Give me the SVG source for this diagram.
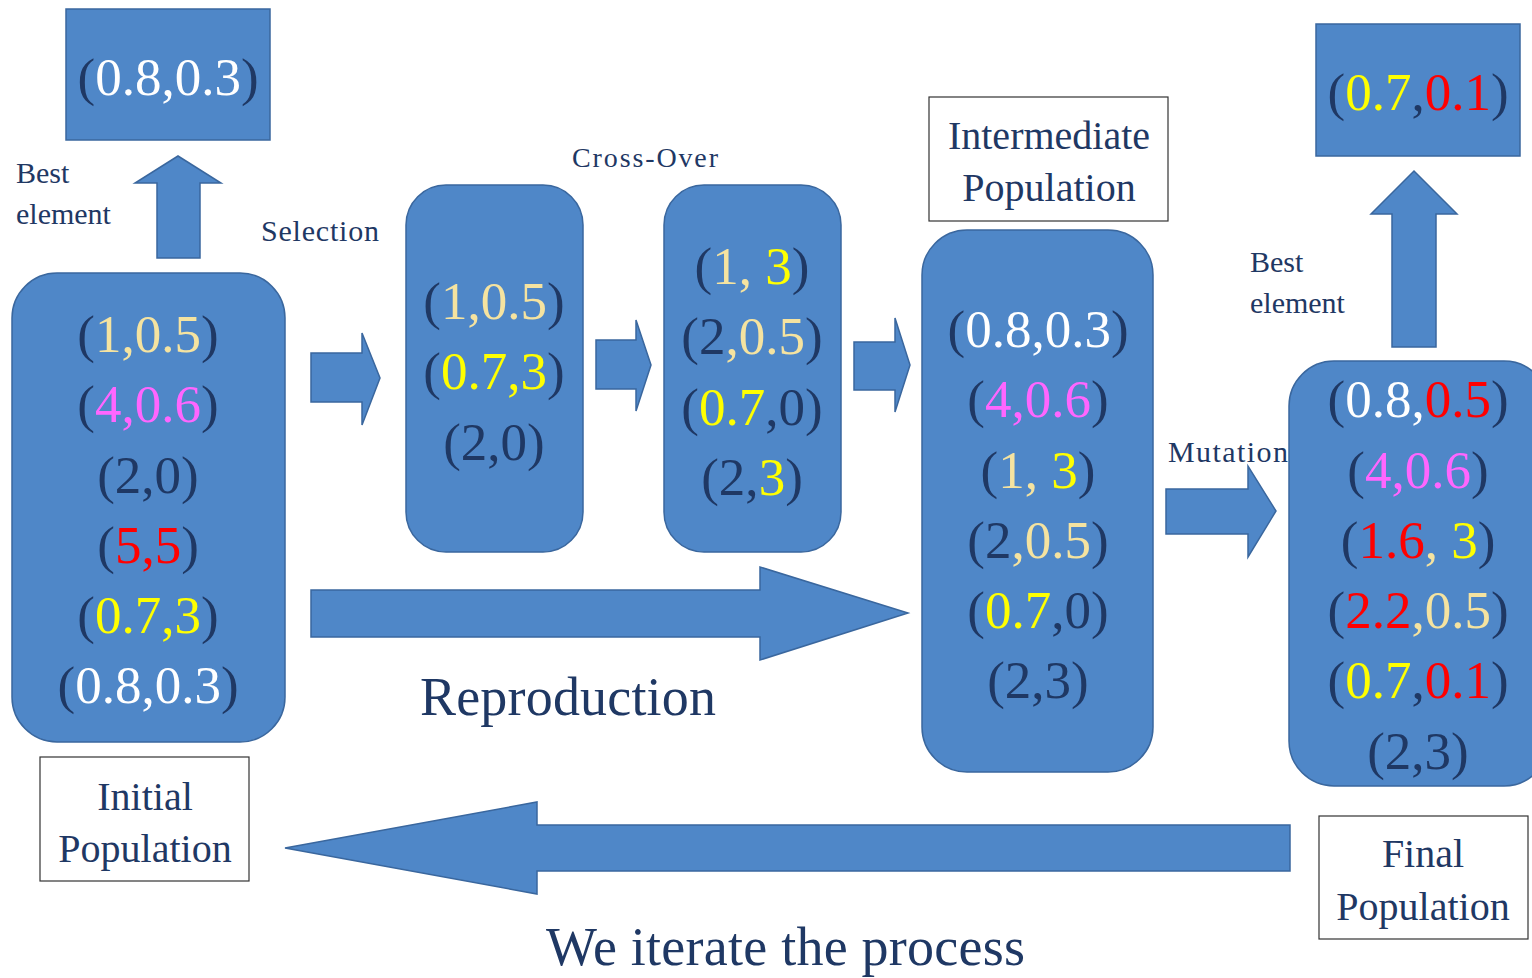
<svg xmlns="http://www.w3.org/2000/svg" width="1532" height="978" viewBox="0 0 1532 978">
<style>
.blk{fill:#4F87C8;stroke:#3A679E;stroke-width:1.5}
.lbl{fill:#FFFFFF;stroke:#333;stroke-width:1.2}
.arr{fill:#4F87C8;stroke:#3A679E;stroke-width:1.5}
text{font-family:"Liberation Serif","Times New Roman",serif;fill:#1F3864}
.t{font-size:53px;text-anchor:middle}
.s{font-size:30px}
.m{font-size:40px;text-anchor:middle}
.big{font-size:54px}
.n{fill:#1F3864}.c{fill:#F5E3A0}.p{fill:#FF66FF}.r{fill:#FF0000}.y{fill:#FFFF00}.w{fill:#FFFFFF}
</style>
<rect width="1532" height="978" fill="#FFFFFF"/>

<g id="connectors">
  <polygon class="arr" points="157,258 157,183 135,183 178,156 221,183 200,183 200,258"/>
  <polygon class="arr" points="1392,347 1392,214 1371,214 1414,171 1457,214 1436,214 1436,347"/>
  <polygon class="arr" points="311,353 362,353 362,333 380,378 362,425 362,402 311,402"/>
  <polygon class="arr" points="596,340 636,340 636,320 651,365 636,411 636,389 596,389"/>
  <polygon class="arr" points="854,342 895,342 895,318 910,365 895,412 895,390 854,390"/>
  <polygon class="arr" points="1166,489 1248,489 1248,466 1276,511 1248,557 1248,534 1166,534"/>
  <polygon class="arr" points="311,590 760,590 760,567 908,613 760,660 760,637 311,637"/>
  <polygon class="arr" points="1290,825 537,825 537,802 285,848 537,894 537,871 1290,871"/>
</g>

<g id="labels">
  <text class="s" x="16" y="183">Best</text>
  <text class="s" x="16" y="224">element</text>
  <text class="s" x="261" y="241" textLength="118">Selection</text>
  <text class="s" x="572" y="167" textLength="146" style="font-size:28px">Cross-Over</text>
  <text class="s" x="1168" y="462" textLength="120">Mutation</text>
  <text class="s" x="1250" y="272">Best</text>
  <text class="s" x="1250" y="313">element</text>
  <text class="big" x="420" y="715" textLength="296">Reproduction</text>
  <text class="big" x="546" y="965" textLength="479">We iterate the process</text>
</g>

<g id="best-initial">
  <rect class="blk" x="66" y="9" width="204" height="131"/>
  <text class="t" x="168" y="95"><tspan class="n">(</tspan><tspan class="w">0.8,0.3</tspan><tspan class="n">)</tspan></text>
</g>

<g id="best-final">
  <rect class="blk" x="1316" y="24" width="204" height="132"/>
  <text class="t" x="1418" y="110"><tspan class="n">(</tspan><tspan class="y">0.7</tspan><tspan class="n">,</tspan><tspan class="r">0.1</tspan><tspan class="n">)</tspan></text>
</g>

<g id="initial-population">
  <rect class="blk" x="12" y="273" width="273" height="469" rx="45"/>
  <text class="t" x="148" y="352"><tspan class="n">(</tspan><tspan class="c">1,0.5</tspan><tspan class="n">)</tspan></text>
  <text class="t" x="148" y="422"><tspan class="n">(</tspan><tspan class="p">4,0.6</tspan><tspan class="n">)</tspan></text>
  <text class="t" x="148" y="493"><tspan class="n">(2,0)</tspan></text>
  <text class="t" x="148" y="563"><tspan class="n">(</tspan><tspan class="r">5,5</tspan><tspan class="n">)</tspan></text>
  <text class="t" x="148" y="633"><tspan class="n">(</tspan><tspan class="y">0.7,3</tspan><tspan class="n">)</tspan></text>
  <text class="t" x="148" y="703"><tspan class="n">(</tspan><tspan class="w">0.8,0.3</tspan><tspan class="n">)</tspan></text>
</g>

<g id="initial-label">
  <rect class="lbl" x="40" y="757" width="209" height="124"/>
  <text class="m" x="145" y="810">Initial</text>
  <text class="m" x="145" y="862">Population</text>
</g>

<g id="selected">
  <rect class="blk" x="406" y="185" width="177" height="367" rx="40"/>
  <text class="t" x="494" y="319"><tspan class="n">(</tspan><tspan class="c">1,0.5</tspan><tspan class="n">)</tspan></text>
  <text class="t" x="494" y="389"><tspan class="n">(</tspan><tspan class="y">0.7,3</tspan><tspan class="n">)</tspan></text>
  <text class="t" x="494" y="460"><tspan class="n">(2,0)</tspan></text>
</g>

<g id="crossover">
  <rect class="blk" x="664" y="185" width="177" height="367" rx="40"/>
  <text class="t" x="752" y="284"><tspan class="n">(</tspan><tspan class="c">1,</tspan><tspan class="y"> 3</tspan><tspan class="n">)</tspan></text>
  <text class="t" x="752" y="354"><tspan class="n">(2</tspan><tspan class="c">,0.5</tspan><tspan class="n">)</tspan></text>
  <text class="t" x="752" y="425"><tspan class="n">(</tspan><tspan class="y">0.7</tspan><tspan class="n">,0)</tspan></text>
  <text class="t" x="752" y="495"><tspan class="n">(2,</tspan><tspan class="y">3</tspan><tspan class="n">)</tspan></text>
</g>

<g id="intermediate-label">
  <rect class="lbl" x="929" y="97" width="239" height="124"/>
  <text class="m" x="1049" y="149">Intermediate</text>
  <text class="m" x="1049" y="201">Population</text>
</g>

<g id="intermediate-population">
  <rect class="blk" x="922" y="230" width="231" height="542" rx="45"/>
  <text class="t" x="1038" y="347"><tspan class="n">(</tspan><tspan class="w">0.8,0.3</tspan><tspan class="n">)</tspan></text>
  <text class="t" x="1038" y="417"><tspan class="n">(</tspan><tspan class="p">4,0.6</tspan><tspan class="n">)</tspan></text>
  <text class="t" x="1038" y="488"><tspan class="n">(</tspan><tspan class="c">1,</tspan><tspan class="y"> 3</tspan><tspan class="n">)</tspan></text>
  <text class="t" x="1038" y="558"><tspan class="n">(2</tspan><tspan class="c">,0.5</tspan><tspan class="n">)</tspan></text>
  <text class="t" x="1038" y="628"><tspan class="n">(</tspan><tspan class="y">0.7</tspan><tspan class="n">,0)</tspan></text>
  <text class="t" x="1038" y="698"><tspan class="n">(2,3)</tspan></text>
</g>

<g id="final-population">
  <rect class="blk" x="1289" y="361" width="260" height="425" rx="45"/>
  <text class="t" x="1418" y="417"><tspan class="n">(</tspan><tspan class="w">0.8,</tspan><tspan class="r">0.5</tspan><tspan class="n">)</tspan></text>
  <text class="t" x="1418" y="488"><tspan class="n">(</tspan><tspan class="p">4,0.6</tspan><tspan class="n">)</tspan></text>
  <text class="t" x="1418" y="558"><tspan class="n">(</tspan><tspan class="r">1.6</tspan><tspan class="c">,</tspan><tspan class="y"> 3</tspan><tspan class="n">)</tspan></text>
  <text class="t" x="1418" y="628"><tspan class="n">(</tspan><tspan class="r">2.2</tspan><tspan class="c">,0.5</tspan><tspan class="n">)</tspan></text>
  <text class="t" x="1418" y="698"><tspan class="n">(</tspan><tspan class="y">0.7</tspan><tspan class="n">,</tspan><tspan class="r">0.1</tspan><tspan class="n">)</tspan></text>
  <text class="t" x="1418" y="769"><tspan class="n">(2,3)</tspan></text>
</g>

<g id="final-label">
  <rect class="lbl" x="1319" y="816" width="209" height="123"/>
  <text class="m" x="1423" y="867">Final</text>
  <text class="m" x="1423" y="920">Population</text>
</g>
</svg>
